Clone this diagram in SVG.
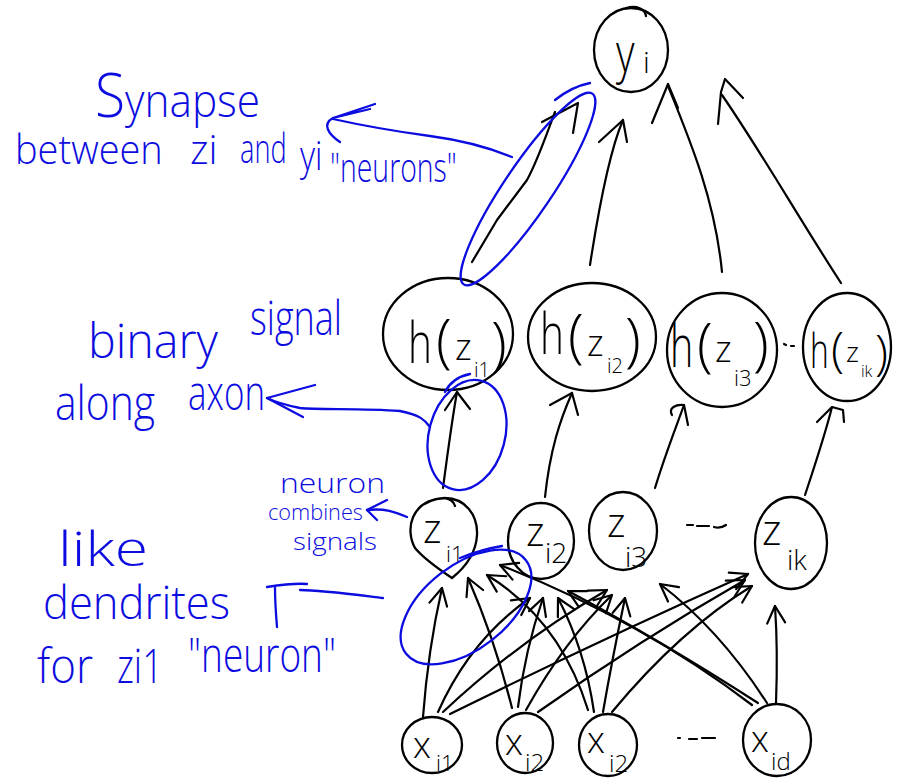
<svg xmlns="http://www.w3.org/2000/svg" width="897" height="784" viewBox="0 0 897 784">
  <style>
    .nd { fill: none; stroke: #000; stroke-width: 2.3; stroke-linecap: round; stroke-linejoin: round; }
    .ed { fill: none; stroke: #000; stroke-width: 2.2; stroke-linecap: round; stroke-linejoin: round; }
    .bl { fill: none; stroke: #0c0ce0; stroke-width: 2.3; stroke-linecap: round; stroke-linejoin: round; }
    .lab { font-family: "Open Sans", "Liberation Sans", sans-serif; font-weight: 300; fill: #000; }
    .ann { font-family: "Open Sans", "Liberation Sans", sans-serif; font-weight: 300; fill: #0c0ce0; }
  </style>
  <defs>
    <marker id="chev" markerUnits="userSpaceOnUse" viewBox="-20 -12 24 24" markerWidth="24" markerHeight="24" refX="0" refY="0" orient="auto">
      <path d="M-17,-9 L0,0 L-17,9" fill="none" stroke="#000" stroke-width="2.2" stroke-linecap="round" stroke-linejoin="round"/>
    </marker>
  </defs>
  <rect width="897" height="784" fill="#fff"/>

  <!-- connectors -->
  <g id="connectors">
    <!-- hidden layer to output y_i -->
    <path class="ed" d="M472,262 L497,220 L527,180 C538,160 548,130 555,112"/>
    <path class="ed" d="M542,122 L578,103 L573,133"/>
    <path class="ed" d="M590,265 C600,200 610,150 623,120"/>
    <path class="ed" d="M599,142 L623,120 L627,142"/>
    <path class="ed" d="M722,272 C715,200 690,140 668,86"/>
    <path class="ed" d="M652,123 L668,84 L678,108"/>
    <path class="ed" d="M841,283 C800,220 760,150 722,95"/>
    <path class="ed" d="M718,124 L721,92 L725,79 L743,98"/>

    <!-- z to h(z) -->
    <path class="ed" d="M443,488 C448,450 452,420 457,392"/>
    <path class="ed" d="M445,410 L457,392 L470,409"/>
    <path class="ed" d="M545,497 C550,450 560,420 572,393"/>
    <path class="ed" d="M550,405 L572,393 L578,415"/>
    <path class="ed" d="M655,488 C665,455 675,430 684,405"/>
    <path class="ed" d="M672,415 C668,408 676,404 684,405 L688,425"/>
    <path class="ed" d="M805,495 C815,465 825,435 832,407"/>
    <path class="ed" d="M817,422 L832,407 L843,410 L844,422"/>

    <!-- inputs x to z -->
    <g marker-end="url(#chev)">
      <path class="ed" d="M423,717 Q428,650 442,588"/>
      <path class="ed" d="M438,712 Q470,640 530,598"/>
      <path class="ed" d="M443,712 Q520,640 607,590"/>
      <path class="ed" d="M450,714 Q600,640 748,574"/>
      <path class="ed" d="M512,708 Q495,640 468,578"/>
      <path class="ed" d="M518,707 Q525,650 543,598"/>
      <path class="ed" d="M526,710 Q565,640 612,595"/>
      <path class="ed" d="M538,712 Q640,640 745,580"/>
      <path class="ed" d="M588,710 Q560,620 487,575"/>
      <path class="ed" d="M594,712 Q585,650 558,598"/>
      <path class="ed" d="M603,712 Q612,660 625,598"/>
      <path class="ed" d="M612,712 Q680,630 752,586"/>
      <path class="ed" d="M752,705 Q640,620 500,565"/>
      <path class="ed" d="M758,703 Q660,640 568,591"/>
      <path class="ed" d="M767,703 Q720,630 660,584"/>
      <path class="ed" d="M776,703 Q778,650 775,606"/>
    </g>

    <!-- ellipsis marks between nodes -->
    <path class="ed" d="M784,344 l2,1 M791,346 l3,0"/>
    <path class="ed" d="M687,525 l6,0 M697,526 l12,0 M714,527 q6,2 12,-2"/>
    <path class="ed" d="M678,738 l2,0 M689,739 l8,0 M702,738 l13,0"/>
  </g>

  <!-- output node -->
  <g id="node-y">
    <ellipse class="nd" cx="631" cy="50" rx="37" ry="42"/>
    <path class="nd" d="M626,8 C637,5 645,9 646,16"/>
    <text class="lab" font-size="56" transform="translate(616 72) scale(0.72 1)">y</text>
    <text class="lab" x="643" y="73" font-size="30">i</text>
  </g>

  <!-- hidden nodes h(z) -->
  <g id="node-h1">
    <ellipse class="nd" cx="448" cy="334" rx="65" ry="56"/>
    <text class="lab" font-size="58" transform="translate(408 363) scale(0.7 1)">h</text>
    <text class="lab" x="436" y="361" font-size="58">(</text>
    <text class="lab" x="455" y="360" font-size="36">z</text>
    <text class="lab" x="474" y="377" font-size="20">i1</text>
    <text class="lab" x="491" y="364" font-size="58">)</text>
  </g>
  <g id="node-h2">
    <ellipse class="nd" cx="592" cy="337" rx="64" ry="54"/>
    <text class="lab" font-size="58" transform="translate(540 354) scale(0.7 1)">h</text>
    <text class="lab" x="568" y="356" font-size="58">(</text>
    <text class="lab" x="587" y="356" font-size="36">z</text>
    <text class="lab" x="607" y="373" font-size="20">i2</text>
    <text class="lab" x="625" y="360" font-size="58">)</text>
  </g>
  <g id="node-h3">
    <ellipse class="nd" cx="722" cy="350" rx="55" ry="57"/>
    <text class="lab" font-size="58" transform="translate(670 367) scale(0.68 1)">h</text>
    <text class="lab" x="697" y="365" font-size="58">(</text>
    <text class="lab" x="715" y="362" font-size="36">z</text>
    <text class="lab" x="734" y="386" font-size="22">i3</text>
    <text class="lab" x="753" y="364" font-size="58">)</text>
  </g>
  <g id="node-hk">
    <ellipse class="nd" cx="847" cy="347" rx="44" ry="54"/>
    <text class="lab" font-size="48" transform="translate(810 368) scale(0.66 1)">h</text>
    <text class="lab" x="831" y="366" font-size="48">(</text>
    <text class="lab" x="846" y="362" font-size="28">z</text>
    <text class="lab" x="861" y="377" font-size="16">ik</text>
    <text class="lab" x="875" y="369" font-size="48">)</text>
  </g>

  <!-- pre-activation nodes z -->
  <g id="node-z1">
    <path class="nd" d="M445,498 C465,498 478,515 477,535 C476,555 462,570 452,578 C440,570 425,560 415,548 C405,530 410,500 445,498 C450,499 454,502 455,506"/>
    <text class="lab" x="423" y="543" font-size="40">z</text>
    <text class="lab" x="446" y="562" font-size="22">i1</text>
  </g>
  <g id="node-z2">
    <ellipse class="nd" cx="541" cy="541" rx="33" ry="38"/>
    <text class="lab" x="526" y="546" font-size="40">z</text>
    <text class="lab" x="545" y="563" font-size="28">i2</text>
  </g>
  <g id="node-z3">
    <ellipse class="nd" cx="623" cy="531" rx="34" ry="39"/>
    <text class="lab" x="607" y="537" font-size="40">z</text>
    <text class="lab" x="625" y="567" font-size="28">i3</text>
  </g>
  <g id="node-zk">
    <ellipse class="nd" cx="791" cy="543" rx="36" ry="46"/>
    <text class="lab" x="762" y="545" font-size="42">z</text>
    <text class="lab" x="787" y="570" font-size="28">ik</text>
  </g>

  <!-- input nodes x -->
  <g id="node-x1">
    <ellipse class="nd" cx="432" cy="745" rx="30" ry="28"/>
    <text class="lab" x="413" y="758" font-size="36">x</text>
    <text class="lab" x="436" y="771" font-size="22">i1</text>
  </g>
  <g id="node-x2">
    <ellipse class="nd" cx="525" cy="743" rx="28" ry="30"/>
    <text class="lab" x="505" y="755" font-size="36">x</text>
    <text class="lab" x="525" y="771" font-size="24">i2</text>
  </g>
  <g id="node-x3">
    <ellipse class="nd" cx="608" cy="745" rx="29" ry="31"/>
    <text class="lab" x="587" y="753" font-size="36">x</text>
    <text class="lab" x="609" y="772" font-size="24">i2</text>
  </g>
  <g id="node-xd">
    <ellipse class="nd" cx="777" cy="740" rx="34" ry="36"/>
    <text class="lab" x="751" y="752" font-size="36">x</text>
    <text class="lab" x="771" y="770" font-size="24">id</text>
  </g>

  <!-- notes -->
  <g id="note-synapse">
    <ellipse class="bl" cx="528" cy="189" rx="115" ry="24" transform="rotate(-56 528 189)"/>
    <path class="bl" d="M590,83 C575,86 565,92 555,100"/>
    <path class="bl" d="M512,157 C490,148 460,140 430,136 C400,132 360,125 333,119"/>
    <path class="bl" d="M375,104 L333,118 L370,109 M333,118 C322,124 328,134 340,142"/>
    <text class="ann" x="95" y="117" font-size="46" textLength="165" lengthAdjust="spacingAndGlyphs"><tspan font-size="60">S</tspan>ynapse</text>
    <text class="ann" font-size="40" transform="translate(15 164) scale(0.95 1)">between</text>
    <text class="ann" font-size="40" x="190" y="164">zi</text>
    <text class="ann" font-size="40" transform="translate(240 163) scale(0.68 1)">and</text>
    <text class="ann" font-size="40" transform="translate(300 170) scale(0.82 1)">yi</text>
    <text class="ann" font-size="40" transform="translate(330 182) scale(0.71 1)">"neurons"</text>
  </g>

  <g id="note-axon">
    <ellipse class="bl" cx="467" cy="435" rx="38" ry="56" transform="rotate(15 467 435)"/>
    <path class="bl" d="M470,374 C460,376 450,382 445,392"/>
    <path class="bl" d="M430,427 C425,420 420,415 400,411 C360,408 320,410 300,408 C285,405 275,402 267,398"/>
    <path class="bl" d="M315,385 L267,398 L303,417"/>
    <text class="ann" font-size="48"><tspan x="88" y="358" textLength="130" lengthAdjust="spacingAndGlyphs">binary</tspan><tspan x="250" y="335" textLength="92" lengthAdjust="spacingAndGlyphs">signal</tspan></text>
    <text class="ann" font-size="48"><tspan x="55" y="420" textLength="100" lengthAdjust="spacingAndGlyphs">along</tspan><tspan x="188" y="410" textLength="77" lengthAdjust="spacingAndGlyphs">axon</tspan></text>
  </g>

  <g id="note-combine">
    <path class="bl" d="M407,517 C395,512 385,508 367,510"/>
    <path class="bl" d="M387,500 L367,510 L377,520"/>
    <text class="ann" x="280" y="493" font-size="28" textLength="105" lengthAdjust="spacingAndGlyphs">neuron</text>
    <text class="ann" x="268" y="520" font-size="22" textLength="95" lengthAdjust="spacingAndGlyphs">combines</text>
    <text class="ann" x="293" y="550" font-size="24" textLength="84" lengthAdjust="spacingAndGlyphs">signals</text>
  </g>

  <g id="note-dendrites">
    <ellipse class="bl" cx="466" cy="607" rx="76" ry="42" transform="rotate(-38 466 607)"/>
    <path class="bl" d="M460,558 C475,552 490,548 502,546"/>
    <path class="bl" d="M383,598 C350,594 320,590 300,590 M267,587 C280,585 295,583 307,584 M275,588 C275,600 276,615 277,627"/>
    <text class="ann" x="58" y="566" font-size="48" textLength="90" lengthAdjust="spacingAndGlyphs">like</text>
    <text class="ann" x="43" y="619" font-size="46" textLength="187" lengthAdjust="spacingAndGlyphs">dendrites</text>
    <text class="ann" font-size="48"><tspan x="37" y="683" textLength="56" lengthAdjust="spacingAndGlyphs">for</tspan><tspan x="117" y="683" textLength="46" lengthAdjust="spacingAndGlyphs">zi1</tspan><tspan x="188" y="672" textLength="148" lengthAdjust="spacingAndGlyphs">"neuron"</tspan></text>
  </g>
</svg>
